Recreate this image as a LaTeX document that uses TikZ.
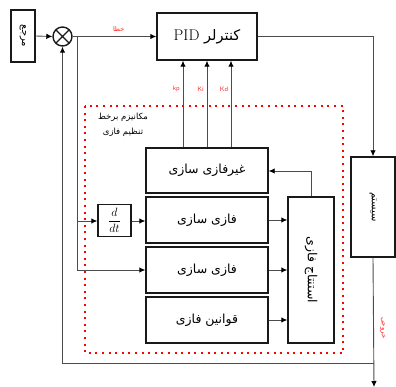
\documentclass[tikz,border=0pt]{standalone}
\usepackage{fontspec}
\usetikzlibrary{arrows.meta,calc}
\newfontfamily\fa[Script=Arabic]{DejaVu Sans}
\TeXXeTstate=1
\begin{document}
\begin{tikzpicture}[x=1pt,y=-1pt,
  blk/.style={draw=black!90,line width=1.4pt,inner sep=0pt,fill=white},
  conn/.style={draw=black!70,line width=0.9pt},
  arr/.style={conn,-{Latex[length=6pt,width=5.5pt,color=black]}},
  redlbl/.style={text=red!85,font=\fontsize{6.5}{7}\selectfont\sffamily,inner sep=0pt},
  fatxt/.style={font=\fa\fontsize{12.5}{14}\selectfont}
]
\useasboundingbox (0,0) rectangle (396,387);
% red dotted frame
\draw[red,line width=2.2pt,dash pattern=on 2pt off 4.6pt] (85,106) rectangle (343,353);
\node[font=\fa\fontsize{8.5}{15}\selectfont,align=center,inner sep=0pt] (mech) at (123,125) {\beginR مکانیزم برخط\endR\\\beginR تنظیم فازی\endR};

% blocks
\node[blk,minimum width=24pt,minimum height=52pt] (ref) at (23,36) {};
\node[rotate=-90,font=\fa\fontsize{10}{11}\selectfont] at (ref.center) {\beginR مرجع\endR};
\node[draw=black!90,line width=1.4pt,circle,minimum size=19pt,inner sep=0pt] (sum) at (62.5,36.5) {};
\draw[black!90,line width=1.2pt] ($(sum.center)+(-6.7,-6.7)$) -- ($(sum.center)+(6.7,6.7)$)
  ($(sum.center)+(-6.7,6.7)$) -- ($(sum.center)+(6.7,-6.7)$);
\node[blk,minimum width=100pt,minimum height=47pt] (pid) at (207,36.5)
  {\fontsize{15.5}{17}\selectfont PID {\fa\fontsize{14.5}{17}\selectfont\beginR کنترلر\endR}};
\node[blk,minimum width=44pt,minimum height=100pt] (sys) at (373,207) {};
\node[rotate=-90,font=\fa\fontsize{10}{11}\selectfont] at (sys.center) {\beginR سیستم\endR};

\node[blk,fatxt,minimum width=122pt,minimum height=45pt] (nf) at (207,170.5) {\beginR غیرفازی سازی\endR};
\node[blk,fatxt,minimum width=122pt,minimum height=46pt] (fz1) at (207,220) {\beginR فازی سازی\endR};
\node[blk,fatxt,minimum width=122pt,minimum height=46pt] (fz2) at (207,270) {\beginR فازی سازی\endR};
\node[blk,fatxt,minimum width=122pt,minimum height=46pt] (rules) at (207,320) {\beginR قوانین فازی\endR};
\node[blk,minimum width=46pt,minimum height=146pt] (inf) at (311,270) {};
\node[rotate=-90,fatxt] at (inf.center) {\beginR استنتاج فازی\endR};
\node[blk,minimum width=33pt,minimum height=32pt,font=\fontsize{12}{14}\selectfont] (ddt) at (114.5,220.5) {$\displaystyle\frac{d}{dt}$};

% connectors
\draw[arr] (ref.east) -- (sum.west);
\draw[arr] (sum.east) -- (pid.west) node[redlbl,pos=0.55,above=5pt] {\fa\beginR خطا\endR};
\coordinate (br) at (77,36.5);
\coordinate (b1) at (77,221);
\draw[conn] (br) -- (77,270);
\draw[arr] (77,270) -- (fz2.west |- 0,270);
\draw[arr] (b1) -- (ddt.west |- b1);
\draw[arr] (ddt.east |- b1) -- (fz1.west |- b1);

\coordinate (kpx) at (183,0);
\coordinate (kix) at (207,0);
\coordinate (kdx) at (231,0);
\draw[arr] (kpx |- nf.north) -- (kpx |- pid.south);
\draw[arr] (kix |- nf.north) -- (kix |- pid.south);
\draw[arr] (kdx |- nf.north) -- (kdx |- pid.south);
\node[redlbl,anchor=east] at (180,89) {kp};
\node[redlbl,anchor=east] at (204,89) {Ki};
\node[redlbl,anchor=east] at (228.5,89) {Kd};

\draw[arr] (pid.east) -| (sys.north);
\coordinate (outend) at (374,387);
\draw[arr] (sys.south) -- (outend);
\node[redlbl,rotate=-90,font=\fontsize{7}{8}\selectfont] at (383,328) {\fa\beginR خروجی\endR};
\coordinate (fb) at (374,363);
\draw[arr] (fb) -| (sum.south);

\draw[arr] (fz1.east) -- (inf.west |- fz1.east);
\draw[arr] (fz2.east) -- (inf.west |- fz2.east);
\draw[arr] (rules.east) -- (inf.west |- rules.east);
\draw[arr] (inf.north) |- (nf.east |- 0,171);
\end{tikzpicture}
\end{document}
